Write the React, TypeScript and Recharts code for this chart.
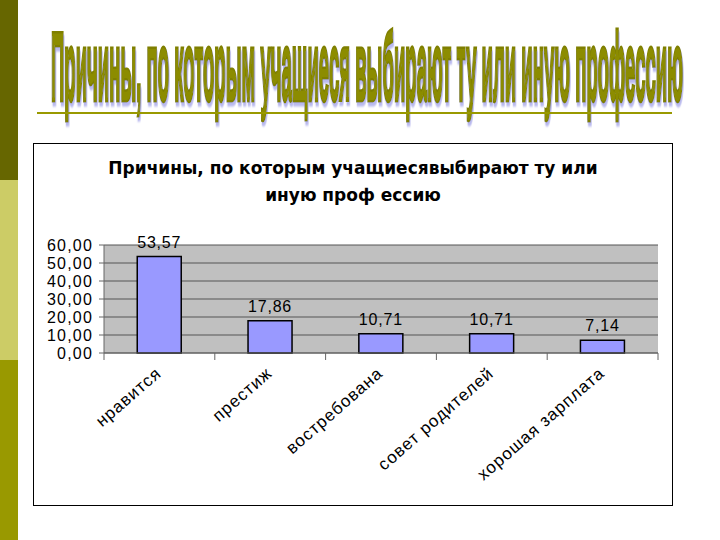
import React, { useLayoutEffect, useRef, useState } from 'react';
import { BarChart, Bar, XAxis, YAxis, CartesianGrid, LabelList } from 'recharts';

const reasons = ['нравится', 'престиж', 'востребована', 'совет родителей', 'хорошая зарплата'];
const percents = [53.57, 17.86, 10.71, 10.71, 7.14];
const yTicks = [0, 10, 20, 30, 40, 50, 60];

const data = reasons.map((name, i) => ({ name, value: percents[i] }));

const fmt = (v: number) => v.toFixed(2).replace('.', ',');

const PLOT_W = 554;
const BAND = PLOT_W / reasons.length;
const FONT = 'Liberation Sans, Arial, sans-serif';
const HEADING = 'Причины, по которым учащиеся выбирают ту или иную профессию';

function XTick(props: any) {
  const { x, y, payload, index } = props;
  return (
    <g>
      <line x1={x - BAND / 2} y1={y - 8} x2={x - BAND / 2} y2={y - 1} stroke="#666" />
      {index === reasons.length - 1 && (
        <line x1={x + BAND / 2} y1={y - 8} x2={x + BAND / 2} y2={y - 1} stroke="#666" />
      )}
      <text
        x={0}
        y={0}
        transform={`translate(${x + 3},${y + 14}) rotate(-41)`}
        textAnchor="end"
        fontSize={17}
        letterSpacing={1}
        fill="#000"
        fontFamily={FONT}
      >
        {payload.value}
      </text>
    </g>
  );
}

// squeezed WordArt-like heading
function WordArt() {
  const ref = useRef<SVGTextElement>(null);
  const [sx, setSx] = useState(0.2);
  useLayoutEffect(() => {
    if (ref.current) {
      const w = ref.current.getComputedTextLength();
      if (w > 0) setSx(632 / w);
    }
  }, []);
  return (
    <svg style={{ position: 'absolute', left: 0, top: 0 }} width={720} height={130}>
      <defs>
        <filter id="wa-shadow" x="-5%" y="-20%" width="110%" height="150%">
          <feDropShadow dx={4} dy={4} stdDeviation={1.2} floodColor="#b8b8ee" floodOpacity={1} />
        </filter>
      </defs>
      <g transform={`translate(51,100) scale(${sx},1)`} filter="url(#wa-shadow)">
        <text ref={ref} x={0} y={0} fontSize={97} fontWeight="bold" fontFamily={FONT}
          fill="#8c8c00" stroke="#7f7f00" strokeWidth={3.5} vectorEffect="non-scaling-stroke" paintOrder="stroke">
          {HEADING}
        </text>
      </g>
      <line x1={37} y1={113} x2={672} y2={113} stroke="#999900" strokeWidth={2} />
    </svg>
  );
}

export default function App() {
  return (
    <div style={{ position: 'absolute', left: 0, top: 0, width: 720, height: 540, background: '#fff', overflow: 'hidden' }}>
      <div style={{ position: 'absolute', left: 0, top: 0, width: 18, height: 180, background: '#666600' }} />
      <div style={{ position: 'absolute', left: 0, top: 180, width: 18, height: 180, background: '#cccc66' }} />
      <div style={{ position: 'absolute', left: 0, top: 360, width: 18, height: 180, background: '#999900' }} />

      <WordArt />

      <div style={{ position: 'absolute', left: 33, top: 143, width: 638, height: 361, border: '1px solid #000', background: '#fff' }}>
        <div style={{
          position: 'absolute', left: 0, top: 11, width: 638, textAlign: 'center',
          fontFamily: 'DejaVu Sans, sans-serif', fontWeight: 'bold', fontSize: 17, lineHeight: '27px', color: '#000'
        }}>
          Причины, по которым учащиесявыбирают ту или<br />иную проф ессию
        </div>
        <BarChart
          width={638}
          height={361}
          data={data}
          margin={{ top: 101, right: 14, left: 0, bottom: 0 }}
          barCategoryGap="30%"
        >
          <CartesianGrid vertical={false} fill="#c0c0c0" stroke="#555" strokeWidth={1} />
          <XAxis
            dataKey="name"
            height={152}
            interval={0}
            axisLine={{ stroke: '#666' }}
            tickLine={false}
            tick={<XTick />}
          />
          <YAxis
            width={70}
            domain={[0, 60]}
            ticks={yTicks}
            interval={0}
            tickFormatter={fmt}
            axisLine={{ stroke: '#666' }}
            tickLine={{ stroke: '#666' }}
            tickSize={5}
            tickMargin={6}
            tick={{ fontSize: 16, fill: '#000', fontFamily: FONT, letterSpacing: 1.2 }}
          />
          <Bar dataKey="value" fill="#9999ff" stroke="#000" strokeWidth={1.5} isAnimationActive={false}>
            <LabelList
              dataKey="value"
              position="top"
              offset={9}
              formatter={(v: any) => fmt(Number(v))}
              style={{ fontSize: 16, fill: '#000', fontFamily: FONT, letterSpacing: 0.8 }}
            />
          </Bar>
        </BarChart>
      </div>
    </div>
  );
}
